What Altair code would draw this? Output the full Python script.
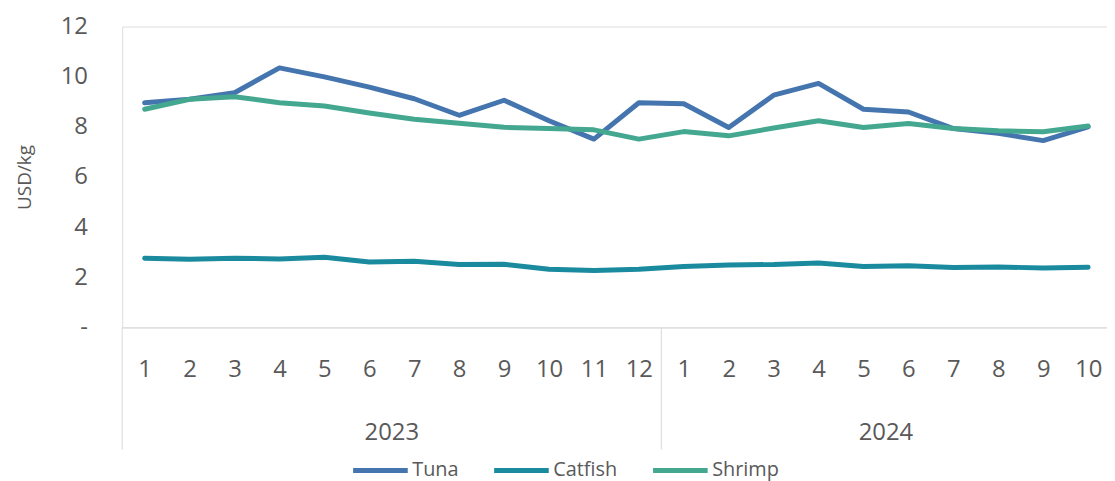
import altair as alt
import pandas as pd

years = ["2023"] * 12 + ["2024"] * 10
months = [str(m) for m in range(1, 13)] + [str(m) for m in range(1, 11)]
series = ["Tuna", "Catfish", "Shrimp"]
tuna = [8.96, 9.1, 9.36, 10.35, 9.99, 9.58, 9.12, 8.46, 9.06, 8.24, 7.51, 8.96,
        8.92, 7.97, 9.26, 9.73, 8.7, 8.59, 7.93, 7.74, 7.45, 8.0]
catfish = [2.76, 2.72, 2.76, 2.73, 2.8, 2.61, 2.64, 2.51, 2.52, 2.32, 2.27, 2.32,
           2.43, 2.49, 2.51, 2.57, 2.43, 2.46, 2.39, 2.41, 2.37, 2.4]
shrimp = [8.7, 9.1, 9.2, 8.96, 8.83, 8.55, 8.3, 8.14, 7.98, 7.93, 7.88, 7.51,
          7.81, 7.64, 7.95, 8.24, 7.97, 8.13, 7.93, 7.84, 7.8, 8.03]
colors = ["#4575AE", "#1A8A9E", "#44A890"]

rows = []
for name, vals in zip(series, [tuna, catfish, shrimp]):
    for i, v in enumerate(vals):
        rows.append({"idx": i, "series": name, "value": v})
df = pd.DataFrame(rows)

# year groups
year_names = sorted(set(years))
year_df = pd.DataFrame({
    "year": year_names,
    "center": [(years.index(y) + len(years) - 1 - years[::-1].index(y)) / 2 for y in year_names],
})
bounds_df = pd.DataFrame({"b": [years.index(y) - 0.5 for y in year_names]})

TXT = "#595959"
GRID = "#D9D9D9"
FONT = "Open Sans"

label_expr = "[" + ",".join("'%s'" % m for m in months) + "][datum.value]"

xscale = alt.Scale(domain=[-0.5, 21.42], nice=False, zero=False)

lines = alt.Chart(df).mark_line(strokeWidth=5, strokeCap="round", strokeJoin="round").encode(
    x=alt.X("idx:Q", scale=xscale,
            axis=alt.Axis(values=list(range(len(months))), labelExpr=label_expr, title=None,
                          grid=False, ticks=False, tickSize=0, domainColor=GRID, domainWidth=1,
                          labelFontSize=24, labelColor=TXT, labelFont=FONT, labelPadding=30,
                          labelFlush=False, labelOverlap=False)),
    y=alt.Y("value:Q", scale=alt.Scale(domain=[0, 12], nice=False),
            axis=alt.Axis(values=[0, 2, 4, 6, 8, 10, 12], title="USD/kg",
                          labelExpr="datum.value == 0 ? '-' : datum.label",
                          grid=False, ticks=False, tickSize=0, domain=False,
                          labelFontSize=24, labelColor=TXT, labelFont=FONT, labelPadding=35,
                          titleFontSize=19, titleColor=TXT, titleFont=FONT, titleFontWeight="normal",
                          titlePadding=26)),
    color=alt.Color("series:N", sort=series,
                    scale=alt.Scale(domain=series, range=colors),
                    legend=alt.Legend(title=None, orient="none", direction="horizontal",
                                      legendX=230, legendY=417, symbolType="stroke",
                                      symbolSize=3025, symbolStrokeWidth=5,
                                      labelFontSize=20, labelColor=TXT, labelFont=FONT,
                                      labelOffset=2, columnPadding=25, padding=0)),
    order=alt.Order("idx:Q"),
)

seps = alt.Chart(bounds_df).mark_rule(color=GRID, strokeWidth=1).encode(
    x=alt.X("b:Q", scale=xscale),
    y=alt.value(303),
    y2=alt.value(426),
)

year_text = alt.Chart(year_df).mark_text(fontSize=24, color=TXT, font=FONT, baseline="middle").encode(
    x=alt.X("center:Q", scale=xscale),
    y=alt.value(409),
    text="year:N",
)

chart = alt.layer(seps, lines, year_text).properties(
    width=991.6, height=303,
    autosize=alt.AutoSizeParams(type="none"),
    padding={"left": 115, "top": 17, "right": 0, "bottom": 153},
).configure_view(stroke=None).configure(background="white")

chart.save("out.html", embed_options={"renderer": "svg", "actions": False})
